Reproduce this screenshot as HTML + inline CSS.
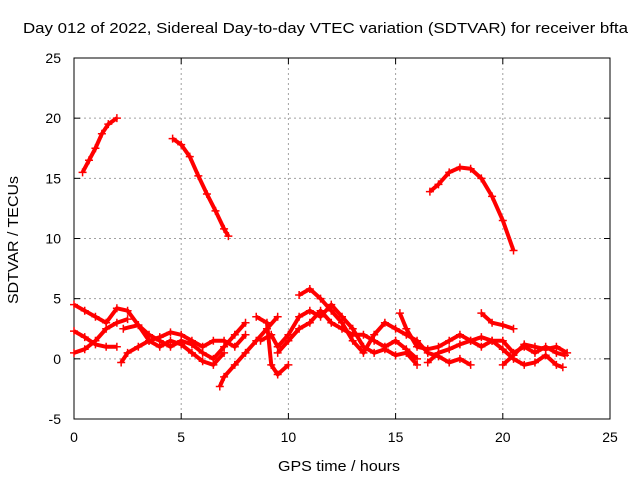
<!DOCTYPE html>
<html><head><meta charset="utf-8"><style>
body{margin:0;background:#fff}
svg text{font-family:"Liberation Sans",sans-serif;font-size:13px;fill:#000}
</style></head><body>
<svg id="chart" width="640" height="480" viewBox="0 0 640 480">
<rect width="640" height="480" fill="#fff"/>
<g id="grid"></g><g id="axes"></g><g id="series"></g>
<text x="23" y="33" textLength="605" lengthAdjust="spacingAndGlyphs" style="font-size:14.5px">Day 012 of 2022, Sidereal Day-to-day VTEC variation (SDTVAR) for receiver bfta</text>
<text x="278" y="471" textLength="122" lengthAdjust="spacingAndGlyphs" style="font-size:14.5px">GPS time / hours</text>
<text transform="translate(18,304) rotate(-90)" textLength="128" lengthAdjust="spacingAndGlyphs" style="font-size:14.5px">SDTVAR / TECUs</text>
</svg>
<script>
const xTicks=[0,5,10,15,20,25];
const yTicks=[-5,0,5,10,15,20,25];
const sA=[[0.4,15.5],[0.7,16.5],[1.0,17.5],[1.3,18.7],[1.6,19.5],[2.0,20.0]];
const sB=[[4.6,18.3],[5.0,17.8],[5.4,16.8],[5.8,15.2],[6.2,13.7],[6.6,12.3],[7.0,10.8],[7.2,10.2]];
const sC=[[16.6,13.9],[17.0,14.5],[17.5,15.5],[18.0,15.9],[18.5,15.8],[19.0,15.0],[19.5,13.5],[20.0,11.5],[20.5,9.0]];
const sD=[[0,4.5],[0.5,4.0],[1.0,3.5],[1.5,3.0],[2.0,4.2],[2.5,4.0],[3.0,2.8],[3.5,2.0],[4.0,1.5],[4.5,1.0],[5.0,1.5],[5.5,1.2],[6,0.5],[6.5,0],[7,1],[7.5,2],[8,3]];
const sE=[[0,2.3],[0.5,1.8],[1,1.2],[1.5,1.0],[2,1.0]];
const sF=[[0,0.5],[0.5,0.8],[1,1.5],[1.5,2.5],[2,3.0],[2.5,3.3]];
const sG=[[2.2,-0.3],[2.5,0.5],[3,1.0],[3.5,1.5],[4,1.8],[4.5,2.2],[5,2.0],[5.5,1.5],[6,1.0],[6.5,1.5],[7,1.5],[7.5,1.0],[8,2.0]];
const sH=[[2.3,2.5],[3,2.8],[3.5,1.5],[4,1.0],[4.5,1.5],[5,1.2],[5.5,0.5],[6,-0.2],[6.5,-0.5],[7,0.5]];
const sI=[[6.8,-2.3],[7,-1.5],[7.5,-0.5],[8,0.5],[8.5,1.5],[9,2.5],[9.5,3.5]];
const sJ=[[8.5,3.5],[9,3.0],[9.2,-0.5],[9.5,-1.3],[10,-0.5]];
const sK=[[8.7,1.5],[9.2,2.0],[9.5,1.0],[10,2.0],[10.5,3.5],[11,4.0],[11.5,3.5],[12,4.5],[12.5,3.5],[13,2.5],[13.5,1.0],[14,0.5],[14.5,0.8],[15,0.3],[15.5,0.5],[16,-0.5]];
const sL=[[9.5,0.5],[10,1.5],[10.5,2.5],[11,3.0],[11.5,4.0],[12,3.0],[12.5,2.5],[13,2.0],[13.5,2.0],[14,1.5],[14.5,1.0],[15,1.5],[15.5,0.8],[16,0]];
const sM=[[10.5,5.3],[11,5.8],[11.5,5.0],[12,4.0],[12.5,3.0],[13,1.5],[13.5,0.5],[14,2.0],[14.5,3.0],[15,2.5],[15.5,2.0],[16,1.5],[16.5,0.5],[17,0.2],[17.5,-0.3],[18,0],[18.5,-0.5]];
const sN=[[15.2,3.8],[15.5,2.5],[16,1.0],[16.5,0.8],[17,1.0],[17.5,1.5],[18,2.0],[18.5,1.5],[19,1.0],[19.5,1.5],[20,1.5],[20.5,0.5],[21,1.0],[21.5,0.5],[22,1.0],[22.5,0.5],[22.9,0.3]];
const sO=[[16.5,-0.3],[17,0.5],[17.5,0.8],[18,1.2],[18.5,1.5],[19,1.8],[19.5,1.5],[20,0.8],[20.5,0],[21,-0.5],[21.5,-0.3],[22,0.3],[22.5,-0.5],[22.8,-0.7]];
const sP=[[19,3.8],[19.5,3.0],[20,2.8],[20.5,2.5]];
const sQ=[[20,-0.5],[20.5,0.3],[21,1.2],[21.5,1.0],[22,0.8],[22.5,1.0],[23,0.5]];
const allSeries=[sA,sB,sC,sD,sE,sF,sG,sH,sI,sJ,sK,sL,sM,sN,sO,sP,sQ];

const X0=74,X1=610,Y0=419,Y1=58;
const xs=v=>X0+(v-0)/(25-0)*(X1-X0);
const ys=v=>Y0-(v+5)/(30)*(Y0-Y1);
const NS="http://www.w3.org/2000/svg";
function mk(tag,attrs,parent){const e=document.createElementNS(NS,tag);for(const k in attrs)e.setAttribute(k,attrs[k]);parent.appendChild(e);return e;}
const grid=document.getElementById('grid'),axes=document.getElementById('axes'),ser=document.getElementById('series');
xTicks.forEach(t=>{const x=xs(t);
 if(t>0&&t<25){const g=mk('line',{x1:x,x2:x,y1:Y1,y2:Y0,stroke:'#a0a0a0','stroke-dasharray':'2,3','stroke-width':1},grid);
 
 }
 mk('line',{x1:x,x2:x,y1:Y0,y2:Y0-6,stroke:'#000'},axes);mk('line',{x1:x,x2:x,y1:Y1,y2:Y1+6,stroke:'#000'},axes);
 const tx=mk('text',{x:x,y:Y0+23,'text-anchor':'middle',style:'font-size:14px'},axes);tx.textContent=t;
 
 });
yTicks.forEach(t=>{const y=ys(t);
 if(t>-5&&t<25){const g=mk('line',{x1:X0,x2:X1,y1:y,y2:y,stroke:'#a0a0a0','stroke-dasharray':'2,3','stroke-width':1},grid);
 
 }
 mk('line',{x1:X0,x2:X0+6,y1:y,y2:y,stroke:'#000'},axes);mk('line',{x1:X1,x2:X1-6,y1:y,y2:y,stroke:'#000'},axes);
 const tx=mk('text',{x:X0-13,y:y+5,'text-anchor':'end',style:'font-size:14px'},axes);tx.textContent=t;
 
 });
const fr=mk('rect',{x:X0,y:Y1,width:X1-X0,height:Y0-Y1,fill:'none',stroke:'#000'},axes);


allSeries.forEach((s,i)=>{
 const p=mk('polyline',{points:s.map(d=>xs(d[0])+','+ys(d[1])).join(' '),fill:'none',stroke:'#f00','stroke-width':4,'stroke-linejoin':'round'},ser);
 
 
 s.forEach(d=>{const x=xs(d[0]),y=ys(d[1]);
  const m=mk('path',{d:`M${x-4},${y}H${x+4}M${x},${y-4}V${y+4}`,stroke:'#f00','stroke-width':1.5},ser);
  
  });
});
</script>
</body></html>
